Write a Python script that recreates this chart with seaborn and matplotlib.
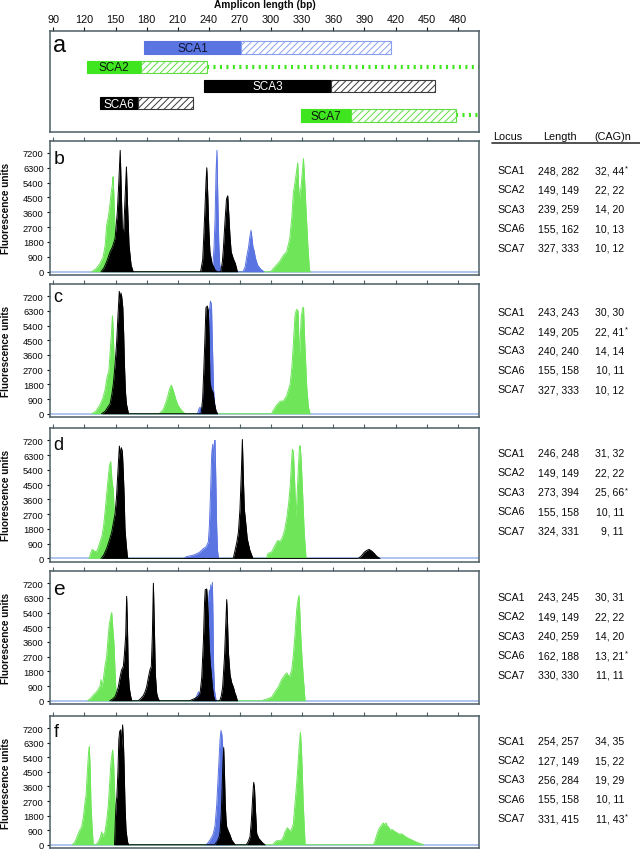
import matplotlib
matplotlib.use("Agg")
import matplotlib.pyplot as plt
import seaborn as sns
import pandas as pd
from matplotlib.lines import Line2D

sns.set_theme(style="ticks")
plt.rcParams["font.family"] = ["Liberation Sans", "DejaVu Sans"]
plt.rcParams["hatch.linewidth"] = 0.7

# ---------------- data ----------------
x_ticks = [90, 120, 150, 180, 210, 240, 270, 300, 330, 360, 390, 420, 450, 480]
y_ticks = [0, 900, 1800, 2700, 3600, 4500, 5400, 6300, 7200]
loci = ["SCA1", "SCA2", "SCA3", "SCA6", "SCA7"]

# panel a: amplicon ranges (bp)
normal_start = [177.5, 122.2, 235.7, 135.0, 328.9]
normal_end = [271.0, 174.2, 357.5, 171.4, 377.1]
expanded_end = [415.4, 237.9, 458.2, 224.4, 478.1]
open_ended = [False, True, False, False, True]

# electropherogram traces: (bp, fluorescence units)
b_green = [(127,0),(131.5,200),(135,500),(138,900),(140,1600),(141.4,2800),(143,3300),(144.5,4000),(145.6,4700),(147,5300),(147.6,5750),(148.3,4800),(149.5,2500),(150.5,800),(151.5,100),(153,0),
           (299.5,0),(303,250),(308,600),(312,1000),(315,1200),(318,2000),(320,3300),(321.5,4800),(323.5,5600),(325.7,6600),(326.5,5200),(327.3,4400),(329,5200),(331.2,6850),(332,6000),(333.5,4000),(335.5,1500),(337,100),(338,0)]
b_blue = [(243.5,0),(245,1500),(246,3200),(246.9,6000),(247.8,7350),(248.6,4500),(249.5,1800),(250.5,400),(252,0),
          (273,0),(275,300),(276.5,900),(278.3,1500),(279.5,2100),(280.7,2500),(281.6,2000),(282.5,1500),(283.5,1300),(285,800),(287,400),(290,150),(293,0)]
b_black = [(136,0),(139,250),(142,700),(144.7,1200),(147,1500),(149.5,2000),(151.7,3600),(153.2,5500),(154.5,7350),(155.4,5200),(156.5,2600),(157.8,2400),(159,4200),(160.5,6350),(161.5,4200),(163,1600),(165,400),(167,0),
           (232,0),(234,700),(235,2000),(236.2,3800),(237.2,5400),(238,6300),(239,4500),(240,2500),(241,1200),(243,500),(246,100),(248,0),
           (251.5,0),(253,600),(254,1400),(255.5,3000),(257,4400),(258.2,4600),(259.2,3500),(260.3,2200),(261.5,1200),(263.5,800),(265.5,500),(267.5,0)]

c_green = [(127,0),(131,150),(135,550),(138,1000),(140,1500),(142,2300),(143.5,2600),(145,4000),(146.3,5200),(147,6000),(147.8,5000),(148.8,3000),(150,1000),(151.5,0),
           (192,0),(196,250),(198.5,700),(200.5,1100),(202,1500),(203.8,1750),(205,1550),(206.5,1250),(208,900),(210,550),(213,250),(217,0),
           (300.5,0),(302,200),(305,500),(308.5,750),(312,800),(315,1100),(318.3,1800),(320,2800),(321.5,4300),(323,6000),(324.5,6400),(326,6300),(327.3,3400),(329,5900),(330.5,6500),(331.3,6500),(332.5,4300),(334.4,1600),(336,400),(337.6,0)]
c_blue = [(229,0),(230.5,300),(231.5,400),(232.5,200),(234,300),(236,1500),(238,4000),(240,6000),(241.5,6900),(242.5,6700),(243.5,4000),(244.5,1500),(246,300),(247.5,0)]
c_black = [(136.5,0),(140,150),(142.5,400),(144.7,600),(146.5,1200),(148,1900),(149.5,3000),(151,4300),(152.5,6200),(153.6,7500),(154.5,7000),(155.2,7400),(155.9,7200),(157,6500),(157.8,5000),(158.6,3000),(159.5,1400),(160.5,600),(162.5,0),
           (232.5,0),(234,900),(235,2500),(236.2,4600),(237.2,6500),(238.5,6600),(239.5,6300),(240.3,4500),(241,2000),(242.3,1500),(244,1300),(245.5,600),(247,150),(248.5,0)]

d_green = [(124.5,0),(126,300),(127.5,550),(129.5,450),(131.8,400),(133.5,700),(135,1000),(137,1400),(138.5,2000),(140,2900),(142,4300),(144,5600),(145.3,5900),(146.5,4800),(147.8,4200),(149,2500),(150.3,600),(151.5,0),
           (295.5,0),(297,300),(300.6,400),(303,700),(305.4,1000),(307,1100),(308.6,1000),(311,1300),(313,1700),(315,2400),(317,3400),(318.5,4500),(320,6200),(320.6,6650),(321.5,6500),(322.5,5000),(324,2500),(325.2,4000),(326.3,5500),(327.3,6700),(328,6870),(329,6000),(330.5,3800),(332,1500),(333.7,0)]
d_blue = [(216.5,0),(218,100),(225,200),(229,300),(231.5,400),(234.7,600),(237.3,700),(239.5,1000),(240.5,2000),(241.5,3800),(242.7,6300),(243.7,6950),(244.5,5800),(245.2,7000),(245.9,7200),(246.7,4800),(247.5,2000),(248.3,500),(249.3,0)]
d_black = [(136,0),(138.5,200),(141.4,600),(144,1100),(146.3,1600),(148,2200),(149.5,2700),(151,3800),(152.2,5200),(153.7,6850),(154.6,6300),(155.6,6750),(156.6,6500),(157.5,5200),(158.3,3800),(159.1,1800),(160.1,1000),(161.4,100),(162,0),
           (263.5,0),(265.3,500),(267,1000),(268.5,1600),(270,3000),(271.4,5400),(272.3,7250),(273.2,5000),(274.2,3000),(275.5,2200),(277,1200),(279.5,500),(282.5,0),
           (384,0),(387,150),(389.5,350),(392,480),(394.5,550),(397,450),(399.5,300),(402,120),(405,0)]

e_green = [(123,0),(126,150),(128.6,350),(131,500),(133.4,700),(135,900),(136,1300),(136.8,800),(138.2,1300),(140,2200),(141.4,2700),(143,4000),(144,4700),(145.5,5200),(146.3,5400),(147.3,4500),(148.5,3500),(149.5,1800),(150.5,500),(151.5,0),
           (290.5,0),(295.8,100),(300.6,220),(303.8,550),(307,850),(310.2,1300),(313.5,1600),(315.1,1700),(317.7,1450),(319.9,1900),(321.5,2800),(323,4000),(324.7,5600),(326,6200),(327,6450),(328,5000),(328.9,3600),(329.8,2600),(331.2,1300),(332.8,0)]
e_blue = [(226,0),(228.3,300),(230,550),(231.5,450),(233,400),(235,1000),(237,3000),(239,5500),(240.5,6780),(241.2,6000),(241.8,7100),(242.5,6500),(243.4,7250),(244,5000),(244.6,2000),(245.5,600),(247,0)]
e_black = [(144.5,0),(147,100),(149.5,250),(151,500),(152.7,850),(154.5,1500),(155.9,1900),(157.5,2100),(158.5,2800),(159.8,4000),(160.7,6400),(161.5,4500),(162.3,1700),(163.2,800),(164.5,300),(165.6,0),
           (172,0),(174.5,150),(176.8,320),(178.5,550),(180,850),(181.6,1400),(183.2,1900),(184.5,2100),(185.5,4000),(186.5,7200),(187.4,4600),(188.4,1600),(189.7,450),(191,150),(192.3,0),
           (221.5,0),(225,100),(228.3,200),(230,300),(231.5,450),(233.1,1400),(234.7,3600),(235.8,6000),(236.5,6800),(237.9,6850),(238.8,6000),(239.5,5000),(240.2,3500),(241.1,2500),(242.5,1500),(243.5,800),(244.5,300),(246,0),
           (250.5,0),(252,300),(253.3,850),(254.2,1800),(255,2600),(256.2,4500),(257.2,6200),(258,4800),(258.8,3000),(260.4,1600),(262,1100),(263.6,850),(265,500),(266.2,300),(267.5,0)]

f_green = [(108.5,0),(111,200),(114.1,700),(115.5,900),(117.3,1100),(119,1700),(120.5,2600),(121.5,3000),(122.8,4500),(124,5700),(124.7,6050),(125.5,4800),(126.3,2500),(127.3,1200),(128.5,0),
           (131,0),(133.5,200),(135.5,500),(136.6,800),(137.5,500),(139.8,800),(141.5,1500),(143.1,2500),(144.5,4000),(145.6,5100),(147.2,5850),(148.2,5000),(149,3500),(150,1500),(151.5,0),
           (301.5,0),(303.5,150),(305.4,250),(308,250),(310.2,300),(312,500),(313.5,800),(315.7,1050),(317,950),(318.3,800),(320,1000),(321.5,1300),(323,2500),(324.7,3800),(326,5000),(327,6000),(328.3,6950),(329.2,6000),(329.9,4800),(331,2500),(332.8,0),
           (398.5,0),(400,200),(401.9,600),(403.5,900),(405.1,1100),(406.5,1200),(408.3,1350),(409.5,1200),(410.9,1350),(412,1150),(413.2,1100),(414.8,900),(416.4,950),(418.5,850),(421.2,750),(423.5,650),(426,680),(428.5,550),(430.8,450),(434,350),(437.3,250),(440.5,150),(443.7,80),(447,0)]
f_blue = [(237.5,0),(239.5,150),(241.1,300),(243,500),(244.3,700),(246,1200),(247.6,2500),(249.2,4500),(250.8,6500),(251.7,7050),(252.5,6800),(253.3,6100),(254.6,3500),(256,1000),(257.5,300),(260,0)]
f_black = [(149,0),(149.8,1500),(150.5,2500),(151.3,3000),(152.3,4500),(153.2,6500),(154,7000),(155,7100),(155.8,6000),(156.8,7400),(157.5,6500),(158.2,5000),(159.1,2500),(160.1,900),(161.5,200),(162.5,0),
           (245.5,0),(248,200),(250,500),(250.8,800),(252,2000),(252.8,3500),(253.5,5000),(254.3,6000),(255,4500),(255.8,2500),(256.6,1500),(257.2,1100),(259,800),(260.4,600),(262,300),(263.6,150),(265.3,0),
           (276,0),(278,200),(279.7,500),(281,1500),(282.3,3000),(283.2,3850),(284,3500),(284.9,2200),(286.1,700),(288,400),(290,250),(292,100),(294.2,0)]

# table values
lengths_b = ["248, 282", "149, 149", "239, 259", "155, 162", "327, 333"]
cag_b = ["32, 44*", "22, 22", "14, 20", "10, 13", "10, 12"]
lengths_c = ["243, 243", "149, 205", "240, 240", "155, 158", "327, 333"]
cag_c = ["30, 30", "22, 41*", "14, 14", "10, 11", "10, 12"]
lengths_d = ["246, 248", "149, 149", "273, 394", "155, 158", "324, 331"]
cag_d = ["31, 32", "22, 22", "25, 66*", "10, 11", "9, 11"]
lengths_e = ["243, 245", "149, 149", "240, 259", "162, 188", "330, 330"]
cag_e = ["30, 31", "22, 22", "14, 20", "13, 21*", "11, 11"]
lengths_f = ["254, 257", "127, 149", "256, 284", "155, 158", "331, 415"]
cag_f = ["34, 35", "15, 22", "19, 29", "10, 11", "11, 43*"]

# ---------------- style ----------------
W, H = 640, 853
GREEN_BAR = "#3fe61f"
GREEN = "#6fe65a"
BLUE = "#5a74e2"
BLACK = "#000000"
SPINE = "#4c5e64"
BASE = "#a9c0ee"
TXT = "#0a0a0a"
XLIM = (86.8, 500.5)
YLIM = (-200, 7950)

fig = plt.figure(figsize=(W / 100, H / 100), dpi=100)

def fax(top, bottom):
    return fig.add_axes([50 / W, 1 - bottom / H, 429 / W, (bottom - top) / H])

def style_spines(ax):
    for s in ax.spines.values():
        s.set_visible(True)
        s.set_color(SPINE)
        s.set_linewidth(1.1)

# ---- panel a ----
axa = fax(32.3, 133)
style_spines(axa)
axa.set_xlim(*XLIM)
axa.set_ylim(133, 32.3)
row_y = [48.5, 67.8, 86.8, 104.2, 116.3]
bar_h = 12.5
solid_cols = [BLUE, GREEN_BAR, BLACK, BLACK, GREEN_BAR]
hatch_cols = ["#8aa0f0", "#5ee040", "#3a3a3a", "#3a3a3a", "#5ee040"]
text_cols = ["#0e1430", "#0a180a", "white", "white", "#0a180a"]
for i, loc in enumerate(loci):
    axa.barh(row_y[i], normal_end[i] - normal_start[i], left=normal_start[i], height=bar_h,
             color=solid_cols[i], edgecolor=solid_cols[i], linewidth=0.8, zorder=3)
    axa.barh(row_y[i], expanded_end[i] - normal_end[i], left=normal_end[i], height=bar_h,
             color="white", edgecolor=hatch_cols[i], hatch="/////", linewidth=0.8, zorder=3)
    if open_ended[i]:
        axa.plot([expanded_end[i], XLIM[1]], [row_y[i], row_y[i]], color=GREEN_BAR, lw=3,
                 linestyle=(0, (0.5, 1.05)), solid_capstyle="butt", dash_capstyle="butt", zorder=2)
    axa.text((normal_start[i] + normal_end[i]) / 2, row_y[i] + 0.5, loc, ha="center", va="center",
             color=text_cols[i], fontsize=8.5, zorder=4)
axa.set_xticks(x_ticks)
axa.set_yticks([])
axa.tick_params(axis="x", top=True, bottom=False, labeltop=True, labelbottom=False,
                direction="out", length=3, width=0.8, pad=2, labelsize=7.8, colors=TXT)
axa.xaxis.set_label_position("top")
axa.set_xlabel("Amplicon length (bp)", fontsize=7.3, fontweight="bold", labelpad=5, color=TXT)
axa.text(0.007, 0.80, "a", transform=axa.transAxes, fontsize=17, va="baseline", ha="left", color=TXT)

# ---- trace panels ----
panel_box = [(141.5, 276), (285, 418), (429, 562.7), (572, 705), (717, 849)]
panel_letters = ["b", "c", "d", "e", "f"]
letter_y = [0.835, 0.87, 0.845, 0.83, 0.85]
letter_size = [14, 13, 13, 15, 13]
panel_traces = [
    (b_green, b_blue, b_black),
    (c_green, c_blue, c_black),
    (d_green, d_blue, d_black),
    (e_green, e_blue, e_black),
    (f_green, f_blue, f_black),
]
panel_lengths = [lengths_b, lengths_c, lengths_d, lengths_e, lengths_f]
panel_cag = [cag_b, cag_c, cag_d, cag_e, cag_f]
table_first_row = [171, 312.7, 454, 598, 741.7]
row_step = 19.4

for p in range(5):
    top, bottom = panel_box[p]
    ax = fax(top, bottom)
    style_spines(ax)
    ax.axhline(0, color=BASE, lw=1.3, zorder=1)
    for trace, col, z in zip(panel_traces[p], [GREEN, BLUE, BLACK], [2, 3, 4]):
        df = pd.DataFrame(trace, columns=["bp", "fu"])
        ax.fill_between(df["bp"], 0, df["fu"], color=col, lw=0, zorder=z)
        sns.lineplot(data=df, x="bp", y="fu", ax=ax, color=col, lw=0.7, estimator=None,
                     sort=False, zorder=z, legend=False)
    ax.set_xlim(*XLIM)
    ax.set_ylim(*YLIM)
    ax.set_xticks(x_ticks)
    ax.set_yticks(y_ticks)
    ax.set_yticklabels([str(v) for v in y_ticks])
    ax.tick_params(axis="x", top=True, bottom=False, labeltop=False, labelbottom=False,
                   direction="out", length=3, width=0.8, colors=SPINE)
    ax.tick_params(axis="y", left=True, direction="out", length=2.5, width=0.8, pad=2,
                   labelsize=6.7, colors=TXT)
    ax.set_xlabel("")
    ax.set_ylabel("Fluorescence units", fontsize=7.2, fontweight="bold", color=TXT)
    ax.yaxis.set_label_coords(-0.09, 0.5)
    ax.text(0.008, letter_y[p], panel_letters[p], transform=ax.transAxes,
            fontsize=letter_size[p], va="baseline", ha="left", color=TXT)

    # table rows
    for r, loc in enumerate(loci):
        yy = 1 - (table_first_row[p] + r * row_step) / H
        fig.text(497 / W, yy, loc, fontsize=7.6, ha="left", va="center", color=TXT)
        fig.text(538 / W, yy, panel_lengths[p][r], fontsize=7.6, ha="left", va="center", color=TXT)
        val = panel_cag[p][r]
        fig.text(624 / W, yy, val.replace("*", ""), fontsize=7.6, ha="right", va="center", color=TXT)
        if "*" in val:
            fig.text(624.5 / W, yy + 2 / H, "*", fontsize=5.5, ha="left", va="center", color=TXT)

# table header
hy = 1 - 136.7 / H
fig.text(493 / W, hy, "Locus", fontsize=7.8, ha="left", va="center", color=TXT)
fig.text(543 / W, hy, "Length", fontsize=7.8, ha="left", va="center", color=TXT)
fig.text(594 / W, hy, "(CAG)n", fontsize=7.8, ha="left", va="center", color=TXT)
fig.add_artist(Line2D([492 / W, 1.0], [1 - 144 / H, 1 - 144 / H], transform=fig.transFigure,
                      color="#333333", lw=1.2))

fig.savefig("out.png", dpi=100)
